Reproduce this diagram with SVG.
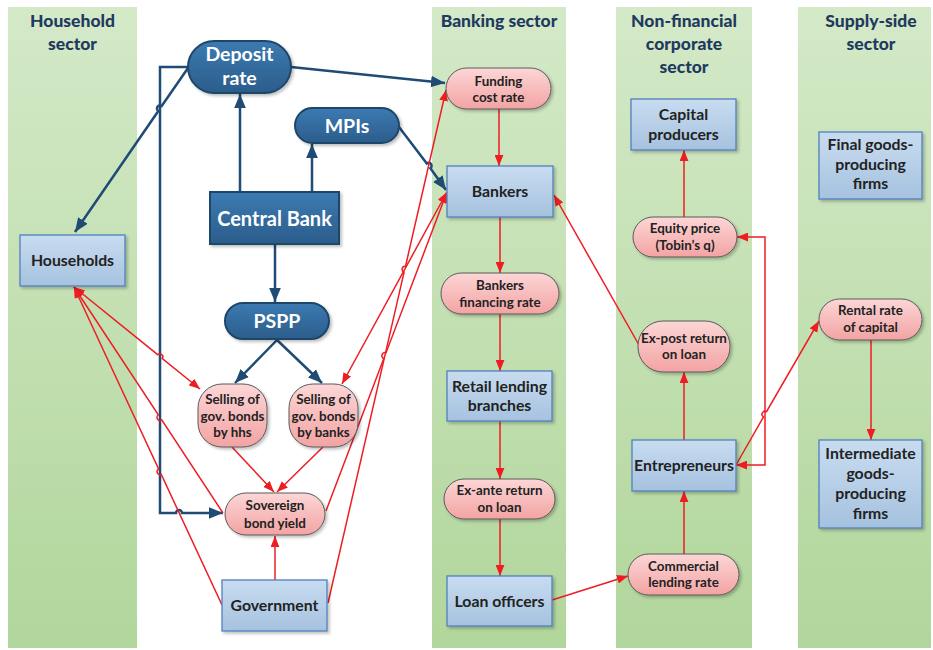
<svg xmlns="http://www.w3.org/2000/svg" width="933" height="650" viewBox="0 0 933 650">
<defs>
<linearGradient id="gCol" x1="0" y1="0" x2="0" y2="1"><stop offset="0" stop-color="#d4e9c8"/><stop offset="1" stop-color="#b1d69b"/></linearGradient>
<linearGradient id="gDark" x1="0" y1="0" x2="0" y2="1"><stop offset="0" stop-color="#3c7ab2"/><stop offset="1" stop-color="#2b5d8b"/></linearGradient>
<linearGradient id="gLight" x1="0" y1="0" x2="0" y2="1"><stop offset="0" stop-color="#c8dcf0"/><stop offset="1" stop-color="#a6c2df"/></linearGradient>
<linearGradient id="gPink" x1="0" y1="0" x2="0" y2="1"><stop offset="0" stop-color="#fcd6d6"/><stop offset="1" stop-color="#f3a3a3"/></linearGradient>
<filter id="sh" x="-10%" y="-10%" width="130%" height="140%"><feDropShadow dx="2" dy="2" stdDeviation="1.5" flood-color="#000" flood-opacity="0.25"/></filter>
<marker id="aR" viewBox="0 0 10 8" refX="10" refY="4" markerWidth="11" markerHeight="9" markerUnits="userSpaceOnUse" orient="auto-start-reverse"><path d="M0,0 L10,4 L0,8 z" fill="#ee1d23"/></marker>
<marker id="aB" viewBox="0 0 12 10" refX="12" refY="5" markerWidth="14" markerHeight="12" markerUnits="userSpaceOnUse" orient="auto"><path d="M0,0 L12,5 L0,10 z" fill="#1f4b74"/></marker>
<style>
.col{fill:url(#gCol)}
.hd{font-family:Lato,"Liberation Sans",sans-serif;font-weight:900;font-size:17.5px;fill:#1f3a5f;text-anchor:middle}
.dk{fill:url(#gDark);stroke:#1f4668;stroke-width:2;filter:url(#sh)}
.lt{fill:url(#gLight);stroke:#4f81bd;stroke-width:1.3;filter:url(#sh)}
.pk{fill:url(#gPink);stroke:#5a5a5a;stroke-width:1;filter:url(#sh)}
.tw{font-family:Lato,"Liberation Sans",sans-serif;font-weight:bold;font-size:19.5px;fill:#fff;text-anchor:middle}
.tl{font-family:Lato,"Liberation Sans",sans-serif;font-weight:bold;font-size:15.8px;fill:#222;text-anchor:middle}
.tp{font-family:Lato,"Liberation Sans",sans-serif;font-weight:bold;font-size:13.4px;fill:#222;text-anchor:middle}
.r{fill:none;stroke:#ee1d23;stroke-width:1.5}
.b{fill:none;stroke:#1f4b74;stroke-width:2.5}
</style>
</defs>
<rect width="933" height="650" fill="#fff"/>
<g id="columns">
<rect class="col" x="8" y="7" width="129" height="641"/>
<rect class="col" x="432" y="7" width="134" height="641"/>
<rect class="col" x="616" y="7" width="136" height="641"/>
<rect class="col" x="798" y="7" width="133" height="641"/>
<text class="hd" x="72.5" y="27">Household</text><text class="hd" x="72.5" y="50">sector</text>
<text class="hd" x="499" y="27">Banking sector</text>
<text class="hd" x="684" y="27">Non-financial</text><text class="hd" x="684" y="50">corporate</text><text class="hd" x="684" y="73">sector</text>
<text class="hd" x="871" y="27">Supply-side</text><text class="hd" x="871" y="50">sector</text>
</g>
<g id="connectors">
<path class="b" d="M188,68 L161.7,106 A3,3 0 0 0 158.3,111 L75,232" marker-end="url(#aB)"/>
<path class="b" d="M291,67 L445,83" marker-end="url(#aB)"/>
<path class="b" d="M188,67 L160,67 L160,513 L176,513 A3,3 0 0 1 182,513 L223,513" marker-end="url(#aB)"/>
<path class="b" d="M240,192 L240,94" marker-end="url(#aB)"/>
<path class="b" d="M312,192 L312,144" marker-end="url(#aB)"/>
<path class="b" d="M275,244 L275,302" marker-end="url(#aB)"/>
<path class="b" d="M399,127 L426.8,163.4 A3,3 0 0 1 430.4,168.2 L446,190" marker-end="url(#aB)"/>
<path class="b" d="M277,340 L235,383" marker-end="url(#aB)"/>
<path class="b" d="M277,340 L322,383" marker-end="url(#aB)"/>

<path class="r" d="M74,287 L157.7,354.7 A3,3 0 0 1 162.3,358.5 L200,389" marker-start="url(#aR)" marker-end="url(#aR)"/>
<path class="r" d="M223,513 L161.7,419.9 A3,3 0 0 1 158.3,414.9 L74,287" marker-end="url(#aR)"/>
<path class="r" d="M222,605 L161.3,474.5 A3,3 0 0 1 158.7,469.1 L74,287" marker-end="url(#aR)"/>
<path class="r" d="M232,447 L274,492" marker-end="url(#aR)"/>
<path class="r" d="M323,447 L277,492" marker-end="url(#aR)"/>
<path class="r" d="M275,580 L275,536" marker-end="url(#aR)"/>
<path class="r" d="M447,192 L342,384" marker-start="url(#aR)" marker-end="url(#aR)"/>
<path class="r" d="M326,511 L383.8,358.5 A3,3 0 0 1 386,352.9 L447,192" marker-end="url(#aR)"/>
<path class="r" d="M328,603 L404.1,272.1 A3,3 0 0 1 405.5,266.3 L446,90" marker-end="url(#aR)"/>
<path class="r" d="M499,109 L499,166" marker-end="url(#aR)"/>
<path class="r" d="M500,217 L500,273" marker-end="url(#aR)"/>
<path class="r" d="M500,314 L500,371" marker-end="url(#aR)"/>
<path class="r" d="M500,421 L500,479" marker-end="url(#aR)"/>
<path class="r" d="M500,519 L500,576" marker-end="url(#aR)"/>
<path class="r" d="M552,600 L628,576" marker-end="url(#aR)"/>
<path class="r" d="M684,554 L684,491" marker-end="url(#aR)"/>
<path class="r" d="M684,440 L684,372" marker-end="url(#aR)"/>
<path class="r" d="M639,345 L554,195" marker-end="url(#aR)"/>
<path class="r" d="M684,217 L684,150" marker-end="url(#aR)"/>
<path class="r" d="M737,237 L765,237 L765,465 L736,465" marker-start="url(#aR)" marker-end="url(#aR)"/>
<path class="r" d="M736,465 L763.5,416.9 A3,3 0 0 1 766.5,411.7 L819,321" marker-end="url(#aR)"/>
<path class="r" d="M871,340 L871,440" marker-end="url(#aR)"/>
</g>
<g id="deposit-rate"><rect class="dk" x="188" y="41" width="103" height="52" rx="26"/><text class="tw" x="239.5" y="61">Deposit</text><text class="tw" x="239.5" y="85">rate</text></g>
<g id="mpis"><rect class="dk" x="295" y="108" width="104" height="35" rx="17.5"/><text class="tw" x="347" y="133">MPIs</text></g>
<g id="central-bank"><rect class="dk" x="210" y="192" width="129" height="52"/><text class="tw" x="274.5" y="226" style="font-size:20px">Central Bank</text></g>
<g id="pspp"><rect class="dk" x="225" y="303" width="104" height="36" rx="18"/><text class="tw" x="277" y="328">PSPP</text></g>
<g id="households"><rect class="lt" x="20" y="235" width="105" height="51"/><text class="tl" x="72.5" y="266">Households</text></g>
<g id="selling-hhs"><rect class="pk" x="198" y="384" width="69" height="63" rx="24"/><text class="tp" x="232.5" y="404">Selling of</text><text class="tp" x="232.5" y="421">gov. bonds</text><text class="tp" x="232.5" y="437">by hhs</text></g>
<g id="selling-banks"><rect class="pk" x="289" y="384" width="69" height="63" rx="24"/><text class="tp" x="323.5" y="404">Selling of</text><text class="tp" x="323.5" y="421">gov. bonds</text><text class="tp" x="323.5" y="437">by banks</text></g>
<g id="sovereign-bond-yield"><rect class="pk" x="225" y="493" width="100" height="42" rx="21"/><text class="tp" x="275" y="510">Sovereign</text><text class="tp" x="275" y="528">bond yield</text></g>
<g id="government"><rect class="lt" x="222" y="580" width="105" height="51"/><text class="tl" x="274.5" y="611">Government</text></g>
<g id="funding-cost-rate"><rect class="pk" x="446" y="68" width="105" height="41" rx="20.5"/><text class="tp" x="498.5" y="86">Funding</text><text class="tp" x="498.5" y="102">cost rate</text></g>
<g id="bankers"><rect class="lt" x="447" y="166" width="106" height="51"/><text class="tl" x="500" y="197">Bankers</text></g>
<g id="bankers-financing-rate"><rect class="pk" x="441" y="273" width="118" height="41" rx="20.5"/><text class="tp" x="500" y="290">Bankers</text><text class="tp" x="500" y="307">financing rate</text></g>
<g id="retail-lending-branches"><rect class="lt" x="447" y="371" width="105" height="50"/><text class="tl" x="499.5" y="392">Retail lending</text><text class="tl" x="499.5" y="411">branches</text></g>
<g id="ex-ante-return"><rect class="pk" x="444" y="479" width="111" height="40" rx="20"/><text class="tp" x="499.5" y="495">Ex-ante return</text><text class="tp" x="499.5" y="512">on loan</text></g>
<g id="loan-officers"><rect class="lt" x="447" y="576" width="105" height="50"/><text class="tl" x="499.5" y="607">Loan officers</text></g>
<g id="capital-producers"><rect class="lt" x="631" y="99" width="105" height="51"/><text class="tl" x="683.5" y="120">Capital</text><text class="tl" x="683.5" y="140">producers</text></g>
<g id="equity-price"><rect class="pk" x="633" y="217" width="104" height="40" rx="20"/><text class="tp" x="685" y="233">Equity price</text><text class="tp" x="685" y="250">(Tobin’s q)</text></g>
<g id="ex-post-return"><rect class="pk" x="638" y="321" width="92" height="51" rx="25"/><text class="tp" x="684" y="343">Ex-post return</text><text class="tp" x="684" y="359">on loan</text></g>
<g id="entrepreneurs"><rect class="lt" x="632" y="440" width="104" height="51"/><text class="tl" x="684" y="471">Entrepreneurs</text></g>
<g id="commercial-lending-rate"><rect class="pk" x="628" y="554" width="111" height="41" rx="20.5"/><text class="tp" x="683.5" y="571">Commercial</text><text class="tp" x="683.5" y="587">lending rate</text></g>
<g id="final-goods-firms"><rect class="lt" x="819" y="132" width="103" height="67"/><text class="tl" x="870.5" y="150">Final goods-</text><text class="tl" x="870.5" y="170">producing</text><text class="tl" x="870.5" y="189">firms</text></g>
<g id="rental-rate"><rect class="pk" x="819" y="299" width="103" height="41" rx="20.5"/><text class="tp" x="870.5" y="315">Rental rate</text><text class="tp" x="870.5" y="332">of capital</text></g>
<g id="intermediate-firms"><rect class="lt" x="819" y="440" width="103" height="88"/><text class="tl" x="870.5" y="459">Intermediate</text><text class="tl" x="870.5" y="479">goods-</text><text class="tl" x="870.5" y="499">producing</text><text class="tl" x="870.5" y="519">firms</text></g>
</svg>
